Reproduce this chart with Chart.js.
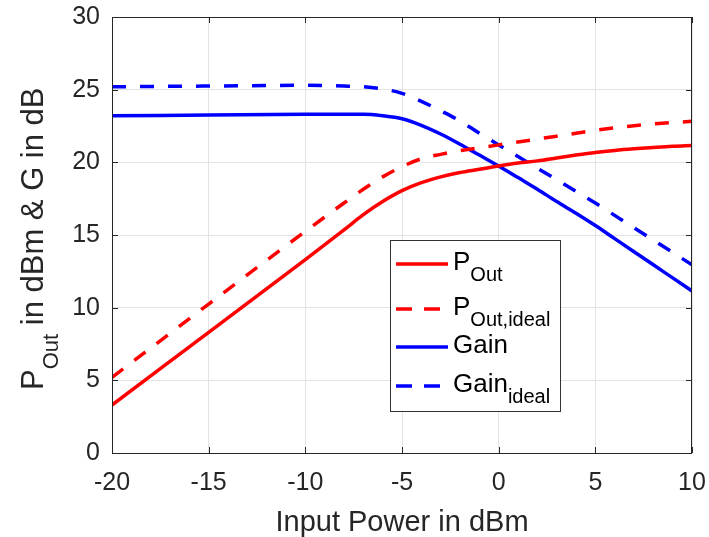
<!DOCTYPE html>
<html>
<head>
<meta charset="utf-8">
<script src="https://cdn.jsdelivr.net/npm/chart.js@4"></script>
<style>
  html, body { margin: 0; padding: 0; background: #fff; }
  canvas { display: block; }
</style>
</head>
<body>
<canvas id="myChart" width="709" height="537"></canvas>
<script>
// Input power (dBm) for every sample
const pin = [-20, -15, -10, -8, -7, -6, -5, -4, -3, -2, -1, 0, 1, 2, 3, 4, 5, 6, 7, 8, 9, 10];

// Output power and gain
const pOut      = [3.3, 8.3, 13.3, 15.35, 16.4, 17.3, 18.05, 18.6, 19.0, 19.3, 19.52, 19.75, 19.95, 20.1, 20.3, 20.5, 20.68, 20.82, 20.93, 21.02, 21.1, 21.15];
const pOutIdeal = [5.2, 10.25, 15.25, 17.2, 18.15, 19.0, 19.7, 20.25, 20.55, 20.8, 21.0, 21.2, 21.4, 21.6, 21.8, 22.0, 22.2, 22.38, 22.52, 22.64, 22.74, 22.82];
const gain      = [23.2, 23.25, 23.3, 23.3, 23.3, 23.2, 23.0, 22.55, 21.95, 21.25, 20.5, 19.75, 18.95, 18.15, 17.3, 16.5, 15.65, 14.75, 13.85, 12.95, 12.05, 11.15];
const gainIdeal = [25.2, 25.25, 25.3, 25.25, 25.2, 25.05, 24.75, 24.2, 23.55, 22.85, 22.0, 21.2, 20.4, 19.6, 18.8, 18.0, 17.2, 16.35, 15.5, 14.65, 13.8, 12.95];

// Legend text: main part and subscript part
const legendMain = ['P', 'P', 'Gain', 'Gain'];
const legendSub  = ['Out', 'Out,ideal', '', 'ideal'];

const FONT = '"Liberation Sans", Arial, Helvetica, sans-serif';
const AXIS_COLOR = '#262626';

function pts(ys) {
    return pin.map((x, i) => ({ x: x, y: ys[i] }));
}

function line(label, ys, color, dashed) {
    return {
        label: label,
        data: pts(ys),
        borderColor: color,
        backgroundColor: color,
        borderWidth: 3.5,
        borderDash: dashed ? [14, 14] : [],
        pointRadius: 0,
        fill: false,
        cubicInterpolationMode: 'monotone'
    };
}

// fixed axis box sizes, no extra label padding
function fitX(s) {
    s.height = 84;
    s.paddingLeft = 0; s.paddingRight = 0; s.paddingTop = 0; s.paddingBottom = 0;
}
function fitY(s) {
    s.width = 112;
    s.paddingLeft = 0; s.paddingRight = 0; s.paddingTop = 0; s.paddingBottom = 0;
}

// Box, inward ticks, y title with subscript, and the in-plot legend
const matlabLook = {
    id: 'matlabLook',
    afterDatasetsDraw(chart) {
        const ctx = chart.ctx;
        const a = chart.chartArea;
        const xs = chart.scales.x, ys = chart.scales.y;
        ctx.save();

        // frame
        ctx.strokeStyle = AXIS_COLOR;
        ctx.lineWidth = 1;
        ctx.strokeRect(Math.round(a.left) + 0.5, Math.round(a.top) + 0.5,
                       Math.round(a.right - a.left) - 1, Math.round(a.bottom - a.top));

        // inward ticks
        const tl = 6;
        ctx.beginPath();
        xs.ticks.forEach(t => {
            const px = Math.round(xs.getPixelForValue(t.value)) + 0.5;
            ctx.moveTo(px, a.bottom); ctx.lineTo(px, a.bottom - tl);
            ctx.moveTo(px, a.top); ctx.lineTo(px, a.top + tl);
        });
        ys.ticks.forEach(t => {
            const py = Math.round(ys.getPixelForValue(t.value)) + 0.5;
            ctx.moveTo(a.left, py); ctx.lineTo(a.left + tl, py);
            ctx.moveTo(a.right, py); ctx.lineTo(a.right - tl, py);
        });
        ctx.stroke();

        // legend
        const box = { x: 390, y: 240, w: 170, h: 171 };
        const rowY = [264, 309, 347, 386];
        ctx.fillStyle = '#fff';
        ctx.fillRect(box.x, box.y, box.w, box.h);
        ctx.strokeStyle = '#333';
        ctx.lineWidth = 1;
        ctx.strokeRect(box.x + 0.5, box.y + 0.5, box.w, box.h);
        chart.data.datasets.forEach((ds, i) => {
            const y = rowY[i];
            ctx.strokeStyle = ds.borderColor;
            ctx.lineWidth = ds.borderWidth;
            ctx.setLineDash(ds.borderDash.length ? [16, 12] : []);
            ctx.beginPath();
            ctx.moveTo(396, y);
            ctx.lineTo(448, y);
            ctx.stroke();
            ctx.setLineDash([]);
            ctx.fillStyle = '#000';
            ctx.textBaseline = 'alphabetic';
            ctx.textAlign = 'left';
            ctx.font = '26px ' + FONT;
            const base = y + 6;
            ctx.fillText(legendMain[i], 453, base);
            const w = ctx.measureText(legendMain[i]).width;
            if (legendSub[i]) {
                ctx.font = '20px ' + FONT;
                ctx.fillText(legendSub[i], 453 + w, base + 11);
            }
        });

        ctx.restore();
    },
    afterDraw(chart) {
        // y-axis title: P_Out in dBm & G in dB
        const ctx = chart.ctx;
        ctx.save();
        ctx.translate(43, 390);
        ctx.rotate(-Math.PI / 2);
        ctx.fillStyle = AXIS_COLOR;
        ctx.textBaseline = 'alphabetic';
        ctx.textAlign = 'left';
        ctx.font = '31px ' + FONT;
        ctx.fillText('P', 0, 0);
        let x = ctx.measureText('P').width;
        ctx.font = '22px ' + FONT;
        ctx.fillText('Out', x, 15);
        x += ctx.measureText('Out').width;
        ctx.font = '31px ' + FONT;
        ctx.fillText(' in dBm & G in dB', x, 0);
        ctx.restore();
    }
};

const ctx = document.getElementById('myChart').getContext('2d');
window.myChart = new Chart(ctx, {
    type: 'line',
    data: {
        datasets: [
            line('P_Out', pOut, '#ff0000', false),
            line('P_Out,ideal', pOutIdeal, '#ff0000', true),
            line('Gain', gain, '#0000ff', false),
            line('Gain_ideal', gainIdeal, '#0000ff', true)
        ]
    },
    options: {
        responsive: false,
        animation: false,
        layout: { padding: { top: 17, right: 17, left: 0, bottom: 0 } },
        plugins: {
            legend: { display: false },
            tooltip: { enabled: false }
        },
        scales: {
            x: {
                type: 'linear',
                min: -20,
                max: 10,
                afterFit: fitX,
                ticks: {
                    stepSize: 5,
                    color: AXIS_COLOR,
                    padding: 15,
                    maxRotation: 0,
                    font: { family: FONT, size: 25 }
                },
                grid: { color: '#e3e3e3', lineWidth: 1, drawTicks: false },
                border: { display: false },
                title: {
                    display: true,
                    text: 'Input Power in dBm',
                    color: AXIS_COLOR,
                    padding: 0,
                    font: { family: FONT, size: 29, lineHeight: 1 }
                }
            },
            y: {
                min: 0,
                max: 30,
                afterFit: fitY,
                ticks: {
                    stepSize: 5,
                    color: AXIS_COLOR,
                    padding: 12,
                    font: { family: FONT, size: 25 }
                },
                grid: { color: '#e3e3e3', lineWidth: 1, drawTicks: false },
                border: { display: false }
            }
        }
    },
    plugins: [matlabLook]
});
</script>
</body>
</html>
